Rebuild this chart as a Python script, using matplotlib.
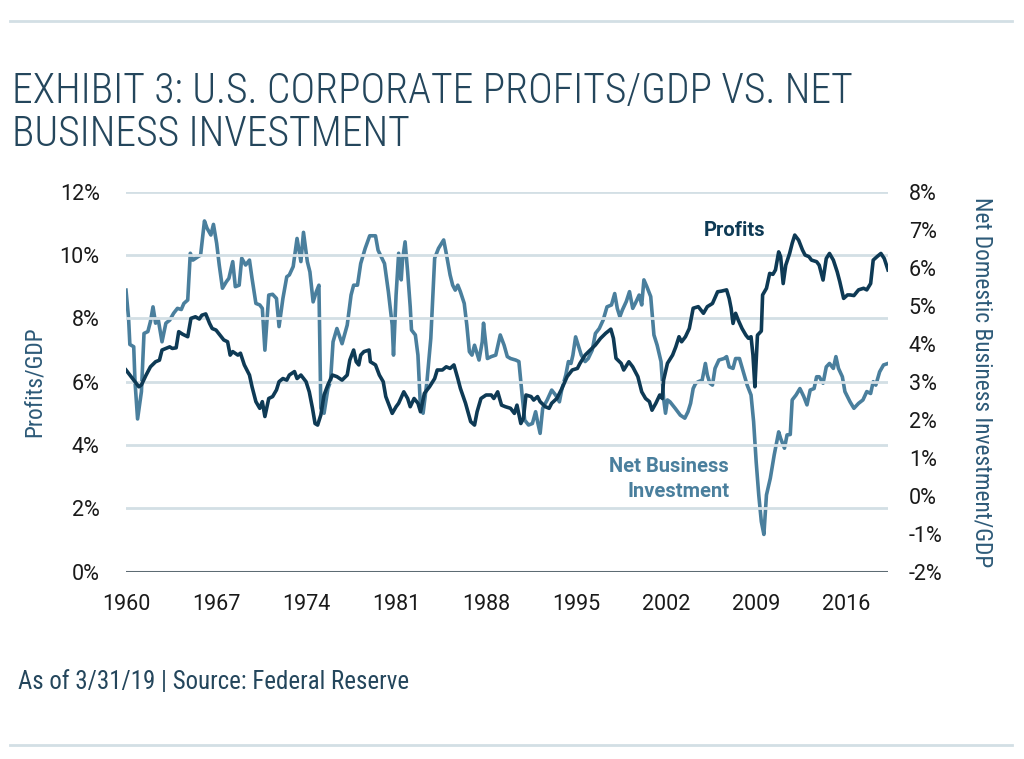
import matplotlib
matplotlib.use('Agg')
import matplotlib.pyplot as plt
from matplotlib import font_manager
from matplotlib.ticker import FuncFormatter, FixedLocator

# Profits/GDP (%)
profit_years = [
    1960.0, 1960.4, 1960.8, 1961.0, 1961.2, 1961.55, 1961.9, 1962.3, 1962.6, 1962.8,
    1963.1, 1963.4, 1963.6, 1963.9, 1964.1, 1964.4, 1964.8, 1965.05, 1965.4, 1965.7,
    1965.9, 1966.2, 1966.5, 1966.7, 1967.0, 1967.4, 1967.6, 1967.9, 1968.1, 1968.3,
    1968.7, 1968.9, 1969.2, 1969.6, 1969.8, 1970.1, 1970.4, 1970.6, 1970.8, 1971.1,
    1971.4, 1971.7, 1971.9, 1972.2, 1972.5, 1972.7, 1973.1, 1973.3, 1973.6, 1974.0,
    1974.25, 1974.5, 1974.7, 1974.9, 1975.15, 1975.4, 1975.7, 1976.05, 1976.4, 1976.8,
    1977.2, 1977.4, 1977.7, 1977.9, 1978.1, 1978.25, 1978.5, 1978.9, 1979.0, 1979.4,
    1979.7, 1980.0, 1980.2, 1980.5, 1980.7, 1981.0, 1981.2, 1981.6, 1981.9, 1982.1,
    1982.4, 1982.7, 1982.9, 1983.2, 1983.6, 1984.0, 1984.2, 1984.6, 1984.9, 1985.2,
    1985.5, 1985.8, 1986.0, 1986.4, 1986.8, 1987.1, 1987.3, 1987.6, 1988.0, 1988.4,
    1988.6, 1988.9, 1989.2, 1989.5, 1989.9, 1990.2, 1990.4, 1990.7, 1990.9, 1991.1,
    1991.5, 1991.7, 1992.0, 1992.2, 1992.6, 1992.9, 1993.1, 1993.5, 1993.9, 1994.3,
    1994.7, 1995.1, 1995.3, 1995.7, 1996.1, 1996.5, 1996.9, 1997.3, 1997.7, 1997.9,
    1998.1, 1998.5, 1998.7, 1999.1, 1999.4, 1999.8, 2000.1, 2000.4, 2000.7, 2000.9,
    2001.2, 2001.5, 2001.7, 2001.8, 2002.1, 2002.5, 2002.75, 2003.0, 2003.2, 2003.5,
    2003.8, 2004.1, 2004.5, 2004.9, 2005.2, 2005.6, 2006.0, 2006.3, 2006.7, 2006.9,
    2007.05, 2007.2, 2007.4, 2007.6, 2007.9, 2008.2, 2008.4, 2008.6, 2008.75, 2008.9,
    2009.1, 2009.4, 2009.5, 2009.8, 2010.05, 2010.3, 2010.5, 2010.75, 2010.9, 2011.1,
    2011.3, 2011.6, 2011.8, 2012.0, 2012.3, 2012.6, 2012.8, 2013.1, 2013.3, 2013.7,
    2013.9, 2014.2, 2014.45, 2014.7, 2015.0, 2015.3, 2015.5, 2015.8, 2016.1, 2016.3,
    2016.6, 2016.96, 2017.35, 2017.6, 2017.9, 2018.1, 2018.4, 2018.7, 2018.96, 2019.25,
]
profit_vals = [
    6.37, 6.16, 5.95, 5.84, 5.90, 6.20, 6.47, 6.63, 6.68, 7.00,
    7.05, 7.10, 7.05, 7.07, 7.58, 7.50, 7.42, 8.00, 8.05, 7.98,
    8.10, 8.14, 7.84, 7.68, 7.63, 7.42, 7.32, 7.26, 6.84, 6.95,
    6.84, 6.90, 6.53, 6.21, 5.84, 5.37, 5.16, 5.37, 4.90, 5.47,
    5.53, 5.74, 6.00, 6.10, 6.05, 6.21, 6.32, 6.10, 6.21, 6.00,
    5.68, 5.16, 4.68, 4.63, 4.95, 5.58, 5.90, 6.21, 6.16, 6.05,
    6.21, 6.68, 7.00, 6.63, 6.53, 6.84, 6.95, 7.00, 6.63, 6.53,
    6.21, 6.00, 5.53, 5.21, 5.00, 5.21, 5.32, 5.68, 5.47, 5.21,
    5.47, 5.32, 5.05, 5.63, 5.84, 6.10, 6.37, 6.37, 6.47, 6.42,
    6.53, 6.10, 5.79, 5.32, 4.74, 4.63, 5.05, 5.47, 5.58, 5.58,
    5.47, 5.68, 5.26, 5.21, 5.16, 5.00, 5.26, 4.68, 4.84, 5.58,
    5.53, 5.42, 5.53, 5.37, 5.21, 5.16, 5.32, 5.47, 5.79, 6.16,
    6.37, 6.42, 6.58, 6.84, 7.00, 7.16, 7.37, 7.53, 7.66, 7.37,
    6.74, 6.58, 6.37, 6.63, 6.47, 6.16, 5.68, 5.47, 5.37, 5.10,
    5.32, 5.58, 5.47, 6.05, 6.58, 6.84, 7.10, 7.42, 7.26, 7.42,
    7.68, 8.32, 8.37, 8.16, 8.37, 8.47, 8.84, 8.86, 8.90, 8.63,
    8.32, 7.84, 8.16, 7.95, 7.68, 7.47, 7.37, 7.42, 6.84, 5.84,
    7.47, 7.60, 8.74, 8.95, 9.42, 9.39, 9.53, 10.10, 9.95, 9.10,
    9.68, 10.05, 10.37, 10.63, 10.47, 10.16, 10.00, 9.95, 9.84, 9.79,
    9.68, 9.21, 9.89, 10.05, 9.84, 9.47, 9.16, 8.63, 8.74, 8.74,
    8.72, 8.90, 8.95, 8.90, 9.10, 9.84, 9.95, 10.05, 9.89, 9.53,
]

# Net domestic business investment/GDP (%)
invest_years = [
    1960.0, 1960.2, 1960.3, 1960.6, 1960.7, 1960.9, 1961.2, 1961.4, 1961.7, 1961.9,
    1962.1, 1962.3, 1962.5, 1962.8, 1963.1, 1963.4, 1963.7, 1964.0, 1964.3, 1964.5,
    1964.8, 1965.0, 1965.2, 1965.6, 1965.8, 1966.1, 1966.3, 1966.6, 1966.8, 1967.05,
    1967.25, 1967.5, 1967.8, 1968.0, 1968.3, 1968.5, 1968.8, 1969.0, 1969.3, 1969.6,
    1969.8, 1970.1, 1970.4, 1970.6, 1970.8, 1971.1, 1971.4, 1971.7, 1971.9, 1972.2,
    1972.5, 1972.7, 1973.0, 1973.3, 1973.6, 1973.8, 1974.1, 1974.3, 1974.55, 1974.8,
    1975.0, 1975.15, 1975.4, 1975.7, 1975.9, 1976.1, 1976.4, 1976.8, 1977.2, 1977.5,
    1977.7, 1978.0, 1978.25, 1978.6, 1978.95, 1979.4, 1979.6, 1979.9, 1980.1, 1980.4,
    1980.7, 1980.8, 1981.0, 1981.2, 1981.4, 1981.5, 1981.7, 1981.9, 1982.1, 1982.2,
    1982.5, 1982.7, 1982.9, 1983.1, 1983.4, 1983.7, 1984.0, 1984.3, 1984.7, 1984.9,
    1985.2, 1985.4, 1985.6, 1985.8, 1986.0, 1986.3, 1986.5, 1986.7, 1986.9, 1987.1,
    1987.45, 1987.7, 1987.8, 1988.1, 1988.4, 1988.75, 1989.1, 1989.4, 1989.65, 1989.9,
    1990.3, 1990.55, 1990.8, 1991.0, 1991.3, 1991.6, 1991.85, 1992.0, 1992.2, 1992.4,
    1992.75, 1993.1, 1993.4, 1993.7, 1993.9, 1994.2, 1994.4, 1994.6, 1994.75, 1994.96,
    1995.2, 1995.4, 1995.7, 1995.94, 1996.25, 1996.5, 1996.8, 1997.1, 1997.4, 1997.75,
    1998.0, 1998.2, 1998.4, 1998.6, 1998.9, 1999.15, 1999.4, 1999.6, 1999.9, 2000.1,
    2000.27, 2000.5, 2000.8, 2001.05, 2001.3, 2001.6, 2001.8, 2001.95, 2002.1, 2002.3,
    2002.7, 2003.1, 2003.45, 2003.7, 2003.9, 2004.1, 2004.3, 2004.5, 2004.8, 2005.05,
    2005.2, 2005.4, 2005.6, 2005.8, 2006.1, 2006.5, 2006.7, 2006.9, 2007.2, 2007.4,
    2007.7, 2008.0, 2008.3, 2008.6, 2008.8, 2009.0, 2009.2, 2009.4, 2009.6, 2009.8,
    2010.1, 2010.4, 2010.75, 2010.9, 2011.2, 2011.4, 2011.65, 2011.8, 2012.1, 2012.4,
    2012.7, 2012.95, 2013.2, 2013.5, 2013.7, 2013.9, 2014.2, 2014.45, 2014.7, 2015.0,
    2015.2, 2015.4, 2015.7, 2015.9, 2016.3, 2016.6, 2016.96, 2017.3, 2017.6, 2017.9,
    2018.1, 2018.3, 2018.6, 2018.9, 2019.25,
]
invest_vals = [
    5.41, 4.67, 3.98, 3.92, 3.00, 2.02, 2.74, 4.27, 4.32, 4.58,
    4.97, 4.54, 4.65, 4.05, 4.54, 4.62, 4.80, 4.93, 4.90, 5.06,
    5.15, 6.38, 6.20, 6.29, 6.33, 7.23, 7.04, 6.86, 7.14, 6.64,
    6.07, 5.46, 5.63, 5.72, 6.16, 5.50, 5.54, 6.25, 6.07, 6.20,
    5.72, 5.06, 5.02, 4.93, 3.83, 5.28, 5.30, 5.19, 4.45, 5.19,
    5.76, 5.81, 6.03, 6.77, 6.16, 6.93, 6.16, 5.89, 5.10, 5.37,
    5.54, 2.30, 2.17, 2.82, 3.00, 4.05, 4.40, 4.00, 4.49, 5.28,
    5.54, 5.54, 6.11, 6.51, 6.84, 6.84, 6.46, 6.25, 6.11, 5.37,
    4.49, 3.70, 5.28, 6.38, 5.68, 6.20, 6.68, 5.89, 4.97, 4.36,
    4.23, 3.70, 2.30, 2.17, 3.00, 4.14, 6.25, 6.51, 6.73, 6.38,
    5.81, 5.54, 5.41, 5.54, 5.37, 5.06, 4.49, 3.79, 3.70, 3.96,
    3.57, 4.05, 4.54, 3.61, 3.66, 3.70, 4.23, 3.96, 3.66, 3.61,
    3.57, 3.53, 2.65, 1.99, 1.86, 1.90, 2.21, 1.95, 1.64, 2.30,
    2.52, 2.78, 2.65, 2.47, 2.82, 3.18, 3.53, 3.48, 3.70, 4.18,
    3.92, 3.70, 3.53, 3.61, 3.83, 4.27, 4.40, 4.62, 4.97, 5.02,
    5.32, 4.93, 4.71, 4.89, 5.11, 5.37, 4.93, 5.06, 5.28, 5.02,
    5.68, 5.50, 5.24, 4.23, 3.96, 3.53, 2.56, 2.17, 2.52, 2.47,
    2.30, 2.12, 2.04, 2.21, 2.43, 2.82, 2.96, 3.00, 3.04, 3.48,
    3.18, 2.96, 2.91, 3.35, 3.57, 3.61, 3.66, 3.39, 3.35, 3.61,
    3.61, 3.26, 2.91, 2.65, 1.95, 0.89, 0.02, -0.68, -1.02, 0.02,
    0.46, 1.07, 1.68, 1.51, 1.25, 1.60, 1.61, 2.52, 2.65, 2.82,
    2.61, 2.39, 2.78, 2.82, 3.13, 3.13, 2.96, 3.39, 3.48, 3.35,
    3.66, 3.35, 3.13, 2.74, 2.47, 2.30, 2.43, 2.52, 2.74, 2.69,
    3.00, 2.91, 3.26, 3.44, 3.48,
]

year_ticks = [1960, 1967, 1974, 1981, 1988, 1995, 2002, 2009, 2016]
left_ticks = [0, 2, 4, 6, 8, 10, 12]
right_ticks = [-2, -1, 0, 1, 2, 3, 4, 5, 6, 7, 8]

NAVY = '#0e3a55'
STEEL = '#4a7f9d'
SLATE = '#24465c'
GRID = '#d3dfe5'

# pick a condensed face for the title and labels
names = {f.name for f in font_manager.fontManager.ttflist}
COND = next((n for n in ['Roboto Condensed', 'Barlow Semi Condensed',
                         'Encode Sans Semi Condensed', 'Archivo Narrow']
             if n in names), 'Roboto')

plt.rcParams['font.family'] = ['Roboto', 'DejaVu Sans']

fig = plt.figure(figsize=(10.24, 7.59), dpi=100)
ax = fig.add_axes([126 / 1024, 1 - 571.7 / 759, 762 / 1024, 380 / 759])
ax2 = ax.twinx()

ax.plot(profit_years, profit_vals, color=NAVY, lw=2.6, zorder=3,
        solid_joinstyle='round')
ax2.plot(invest_years, invest_vals, color=STEEL, lw=2.6, zorder=2,
         solid_joinstyle='round')

ax.set_xlim(1960, 2019.25)
ax.set_ylim(0, 12)
ax2.set_ylim(-2, 8)

ax.xaxis.set_major_locator(FixedLocator(year_ticks))
ax.yaxis.set_major_locator(FixedLocator(left_ticks))
ax2.yaxis.set_major_locator(FixedLocator(right_ticks))
ax.yaxis.set_major_formatter(FuncFormatter(lambda v, p: f'{v:.0f}%'))
ax2.yaxis.set_major_formatter(FuncFormatter(lambda v, p: f'{v:.0f}%'))

for t in left_ticks[1:]:
    ax.axhline(t, color=GRID, lw=2, zorder=0)
ax.axhline(0, color='#5d6b73', lw=2.2, zorder=1)

for a in (ax, ax2):
    for s in a.spines.values():
        s.set_visible(False)
    a.tick_params(length=0, labelsize=15.5, labelcolor='#1a1a1a')
ax.tick_params(axis='y', pad=19)
ax.tick_params(axis='x', pad=16)
ax2.tick_params(axis='y', pad=15)
ax.set_zorder(ax2.get_zorder() + 1)
ax.patch.set_visible(False)

ax.set_ylabel('Profits/GDP', family=[COND, 'Roboto'], fontsize=16.8,
              color='#2d5a78', labelpad=10)
ax2.set_ylabel('Net Domestic Business Investment/GDP', family=[COND, 'Roboto'],
               fontsize=16.8, color='#2d5a78', rotation=-90, labelpad=20, va='bottom')

ax.text(2004.9, 10.76, 'Profits', color=NAVY, fontsize=14.5, fontweight='bold',
        ha='left', va='center')
ax2.text(2006.9, 0.44, 'Net Business\nInvestment', color=STEEL, fontsize=14.5,
         fontweight='bold', ha='right', va='center', linespacing=1.45)

fig.text(12 / 1024, 1 - 113 / 759,
         'EXHIBIT 3: U.S. CORPORATE PROFITS/GDP VS. NET\nBUSINESS INVESTMENT',
         family=[COND, 'Roboto'], fontweight='light', fontsize=30, color=SLATE,
         ha='left', va='center', linespacing=1.05)
fig.text(18 / 1024, 1 - 682 / 759, 'As of 3/31/19 | Source: Federal Reserve',
         family=[COND, 'Roboto'], fontsize=17.9, color=SLATE, ha='left', va='center')

for yy in (21, 745):
    fig.add_artist(plt.Line2D([10 / 1024, 1012 / 1024], [1 - yy / 759] * 2,
                              color=GRID, lw=2))

fig.savefig('out.png', dpi=100)
